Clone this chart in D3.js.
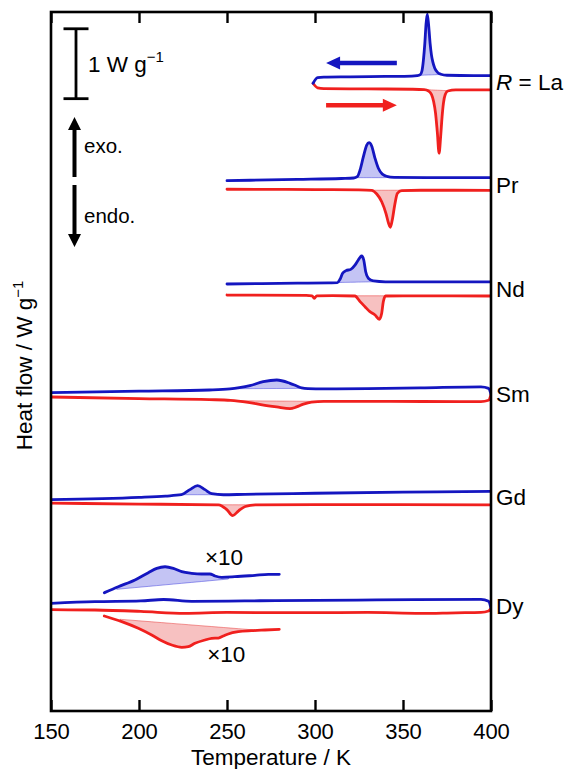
<!DOCTYPE html>
<html>
<head>
<meta charset="utf-8">
<script src="https://cdn.jsdelivr.net/npm/d3@7"></script>
<style>
  body { margin: 0; background: #fff; }
  svg { display: block; }
  text { font-family: "Liberation Sans", Arial, Helvetica, sans-serif; fill: #000; }
</style>
</head>
<body>
<svg id="chart" width="568" height="769"></svg>
<script>
// ---- DSC traces of R compounds (T in K, heat flow in W/g relative to each trace offset) ----
const samples = ["La", "Pr", "Nd", "Sm", "Gd", "Dy"];
const offsets = [9.0, 7.53, 6.04, 4.53, 3.06, 1.50];
const xTicks = [150, 200, 250, 300, 350, 400];

// cooling runs (exothermic, up)
const coolLa = [[298.9,-0.02],[301.5,0.06],[305,0.068],[320,0.072],[340,0.078],[355,0.083],[358,0.09],[359.8,0.105],[360.8,0.16],[361.6,0.31],[362.4,0.55],[363.1,0.83],[363.8,0.97],[364.6,0.80],[365.4,0.55],[366.2,0.38],[366.9,0.29],[368,0.2],[369.5,0.14],[371.5,0.11],[375,0.095],[390,0.09],[400,0.09]];
const coolPr = [[250,0.057],[290,0.075],[315,0.088],[322,0.095],[324,0.114],[325.6,0.21],[327.5,0.40],[329.4,0.567],[330.7,0.60],[332.2,0.553],[334.1,0.377],[336,0.234],[338.2,0.152],[340.7,0.119],[345,0.105],[370,0.10],[400,0.10]];
const coolNd = [[250,0.069],[290,0.08],[308,0.085],[312.7,0.087],[314.2,0.136],[315.7,0.222],[317.6,0.26],[320.3,0.278],[322.7,0.34],[324.6,0.412],[326.5,0.469],[327.7,0.412],[328.8,0.245],[330.3,0.15],[333.1,0.112],[340,0.10],[400,0.10]];
const coolSm = [[150,0.024],[200,0.045],[240,0.062],[251.7,0.077],[257,0.095],[263,0.124],[270.6,0.181],[278.3,0.205],[285.8,0.158],[289.6,0.12],[292.4,0.092],[296,0.082],[305,0.078],[330,0.082],[360,0.092],[394.3,0.107],[398.6,0.085],[400,0.0]];
const coolGd = [[150,-0.037],[200,-0.004],[215,0.015],[224.1,0.034],[228.9,0.107],[233.3,0.165],[237.5,0.107],[241.3,0.049],[248,0.034],[260,0.04],[300,0.055],[350,0.07],[400,0.083]];
const coolDy = [[150,0.041],[175,0.064],[201,0.075],[214,0.095],[230,0.069],[260,0.075],[277.7,0.079],[335,0.089],[394.3,0.098],[398.6,0.07],[400,-0.03]];

// heating runs (endothermic, down)
const heatLa = [[298.9,-0.02],[301.5,-0.085],[305,-0.095],[330,-0.10],[355,-0.105],[362,-0.11],[364.5,-0.13],[366.2,-0.18],[367.4,-0.28],[368.5,-0.45],[369.5,-0.72],[370.5,-1.02],[371.4,-0.78],[372.2,-0.5],[373,-0.3],[374,-0.18],[375.5,-0.13],[380,-0.115],[400,-0.115]];
const heatPr = [[250,-0.066],[300,-0.07],[325,-0.075],[332.2,-0.081],[335.1,-0.134],[337.9,-0.244],[340.3,-0.41],[341.8,-0.553],[342.8,-0.61],[343.9,-0.506],[345.3,-0.291],[346.8,-0.124],[349.3,-0.085],[360,-0.08],[400,-0.081]];
const heatNd = [[250,-0.089],[295,-0.095],[298.3,-0.10],[299.6,-0.136],[301,-0.10],[310,-0.098],[322.7,-0.103],[325.6,-0.184],[328.4,-0.256],[331.2,-0.327],[334.1,-0.375],[336.5,-0.436],[337.9,-0.35],[338.8,-0.184],[340.1,-0.103],[350,-0.10],[400,-0.103]];
const heatSm = [[150,-0.038],[200,-0.06],[240,-0.075],[252,-0.085],[262,-0.115],[270,-0.15],[278.2,-0.18],[285.8,-0.205],[289.5,-0.18],[293.4,-0.14],[298,-0.11],[305,-0.1],[330,-0.1],[394.3,-0.105],[398.6,-0.085],[400,0.0]];
const heatGd = [[150,-0.086],[200,-0.10],[245.2,-0.11],[250,-0.182],[253.2,-0.265],[256.6,-0.196],[260.4,-0.134],[266.1,-0.11],[300,-0.108],[400,-0.11]];
const heatDy = [[150,-0.051],[175,-0.055],[201,-0.075],[226,-0.104],[250,-0.09],[297,-0.094],[330,-0.09],[360,-0.104],[380,-0.095],[394.3,-0.09],[398.6,-0.07],[400,-0.03]];

// Dy: magnified (x10) traces, shifted off the main curves
const coolDyX10 = [[180.3,0.192],[188.2,0.278],[197.7,0.374],[205.3,0.479],[210.1,0.541],[214.8,0.564],[219.5,0.541],[224.3,0.493],[229.9,0.470],[235.6,0.460],[240.3,0.460],[243.2,0.431],[247,0.413],[254.5,0.421],[265.9,0.441],[273.5,0.455],[279.7,0.455]];
const heatDyX10 = [[180.3,-0.141],[190.2,-0.222],[199.6,-0.317],[207.2,-0.413],[212.9,-0.494],[218.6,-0.556],[224.3,-0.589],[228.0,-0.580],[231.8,-0.531],[237.5,-0.484],[241.3,-0.460],[245.1,-0.456],[247.9,-0.427],[250.7,-0.398],[256.4,-0.366],[264.0,-0.351],[271.6,-0.341],[279.7,-0.331]];

// integration windows: straight baseline from [T1,q1] to [T2,q2]
const coolPeaks = [[[360,0.095],[370.5,0.105]], [[323.7,0.10],[340,0.10]], [[313,0.09],[333,0.10]], [[251.7,0.08],[294.3,0.086]], [[224,0.034],[248,0.034]], null];
const heatPeaks = [[[362,-0.11],[375,-0.125]], [[332,-0.08],[348.8,-0.08]], [[322.7,-0.10],[340.1,-0.10]], [[256,-0.092],[302.8,-0.1]], [[245,-0.11],[263.5,-0.11]], null];
const coolDyX10Peak = [[187.3,0.241],[250.8,0.388]];
const heatDyX10Peak = [[189.2,-0.188],[265.9,-0.341]];

const coolRuns = [coolLa, coolPr, coolNd, coolSm, coolGd, coolDy];
const heatRuns = [heatLa, heatPr, heatNd, heatSm, heatGd, heatDy];

// ---- layout ----
const W = 568, H = 769;
const margin = { top: 12, right: 77, bottom: 58, left: 51 };
const innerW = W - margin.left - margin.right;
const innerH = H - margin.top - margin.bottom;

const BLUE = "#1416c0", RED = "#f0201e";
const BLUE_FILL = "#3c3cdc", RED_FILL = "#e63232";

const svg = d3.select("#chart");
const g = svg.append("g").attr("transform", `translate(${margin.left},${margin.top})`);

const x = d3.scaleLinear().domain([150, 400]).range([0, innerW]);
const y = d3.scaleLinear().domain([0, 10]).range([innerH, 0]);

// clip traces to the frame
g.append("clipPath").attr("id", "plotClip")
  .append("rect").attr("x", 0).attr("y", 0).attr("width", innerW).attr("height", innerH);
const plot = g.append("g").attr("clip-path", "url(#plotClip)");

function interpAt(run, t) {
  for (let i = 0; i < run.length - 1; i++) {
    const [t0, q0] = run[i], [t1, q1] = run[i + 1];
    if (t >= t0 && t <= t1) return q0 + (q1 - q0) * (t - t0) / (t1 - t0);
  }
  return run[run.length - 1][1];
}

function peakArea(run, win) {
  const [[t1, q1], [t2, q2]] = win;
  const base = t => q1 + (q2 - q1) * (t - t1) / (t2 - t1);
  const pts = [[t1, interpAt(run, t1), base(t1)]];
  run.filter(p => p[0] > t1 && p[0] < t2).forEach(p => pts.push([p[0], p[1], base(p[0])]));
  pts.push([t2, interpAt(run, t2), base(t2)]);
  return pts;
}

function drawFill(run, win, off, color) {
  const area = d3.area()
    .x(d => x(d[0]))
    .y1(d => y(off + d[1]))
    .y0(d => y(off + d[2]))
    .curve(d3.curveMonotoneX);
  plot.append("path")
    .attr("d", area(peakArea(run, win)))
    .attr("fill", color).attr("fill-opacity", 0.3)
    .attr("stroke", color).attr("stroke-opacity", 0.55).attr("stroke-width", 0.9);
}

function drawRun(run, off, color) {
  const line = d3.line()
    .x(d => x(d[0]))
    .y(d => y(off + d[1]))
    .curve(d3.curveMonotoneX);
  plot.append("path")
    .attr("d", line(run))
    .attr("fill", "none")
    .attr("stroke", color)
    .attr("stroke-width", 2.8)
    .attr("stroke-linejoin", "round")
    .attr("stroke-linecap", "round");
}

samples.forEach((s, i) => {
  const off = offsets[i];
  if (coolPeaks[i]) drawFill(coolRuns[i], coolPeaks[i], off, BLUE_FILL);
  if (heatPeaks[i]) drawFill(heatRuns[i], heatPeaks[i], off, RED_FILL);
  drawRun(heatRuns[i], off, RED);
  drawRun(coolRuns[i], off, BLUE);
});

// Dy x10 traces
const dyOff = offsets[5];
drawFill(coolDyX10, coolDyX10Peak, dyOff, BLUE_FILL);
drawFill(heatDyX10, heatDyX10Peak, dyOff, RED_FILL);
drawRun(coolDyX10, dyOff, BLUE);
drawRun(heatDyX10, dyOff, RED);

g.append("text").attr("x", x(248.3)).attr("y", y(dyOff + 0.70)).attr("dy", "0.36em")
  .attr("text-anchor", "middle").style("font-size", "22.5px").text("\u00d710");
g.append("text").attr("x", x(249.6)).attr("y", y(dyOff - 0.69)).attr("dy", "0.36em")
  .attr("text-anchor", "middle").style("font-size", "22.5px").text("\u00d710");

// sample labels on the right
samples.forEach((s, i) => {
  const t = g.append("text")
    .attr("x", innerW + 5)
    .attr("y", y(offsets[i]))
    .attr("dy", "0.36em")
    .style("font-size", "22.5px");
  if (s === "La") {
    t.append("tspan").style("font-style", "italic").text("R");
    t.append("tspan").text(" = La");
  } else {
    t.text(s);
  }
});

// ---- axes and frame ----
const axBottom = d3.axisBottom(x).tickValues(xTicks).tickSize(-11).tickPadding(12).tickFormat(d3.format("d"));
const gb = g.append("g").attr("transform", `translate(0,${innerH})`).call(axBottom);
gb.select(".domain").remove();
gb.selectAll(".tick line").attr("stroke", "#000").attr("stroke-width", 2.4);
gb.selectAll(".tick text").style("font-size", "22px").attr("fill", "#000")
  .style("font-family", "\"Liberation Sans\", Arial, Helvetica, sans-serif");

const axTop = d3.axisTop(x).tickValues(xTicks).tickSize(-11).tickFormat("");
const gt = g.append("g").call(axTop);
gt.select(".domain").remove();
gt.selectAll(".tick line").attr("stroke", "#000").attr("stroke-width", 2.4);

g.append("rect").attr("x", 0).attr("y", 0).attr("width", innerW).attr("height", innerH)
  .attr("fill", "none").attr("stroke", "#000").attr("stroke-width", 2.6);

g.append("text").attr("x", innerW / 2).attr("y", innerH + 54)
  .attr("text-anchor", "middle").style("font-size", "22.5px").text("Temperature / K");

const yl = svg.append("text")
  .attr("transform", `translate(32,${margin.top + innerH / 2 + 4}) rotate(-90)`)
  .attr("text-anchor", "middle").style("font-size", "22.5px");
yl.append("tspan").text("Heat flow / W g");
yl.append("tspan").attr("dy", -9).style("font-size", "15px").text("\u22121");

// ---- scale bar: 1 W/g ----
const barX = 25, barLo = 8.76, barHi = 9.76, cap = 12.5;
const sb = g.append("g").attr("stroke", "#000").attr("stroke-width", 2.8);
sb.append("line").attr("x1", barX).attr("x2", barX).attr("y1", y(barLo)).attr("y2", y(barHi));
sb.append("line").attr("x1", barX - cap).attr("x2", barX + cap).attr("y1", y(barLo)).attr("y2", y(barLo));
sb.append("line").attr("x1", barX - cap).attr("x2", barX + cap).attr("y1", y(barHi)).attr("y2", y(barHi));
const sbt = g.append("text").attr("x", barX + 12).attr("y", y(barHi) + 43).style("font-size", "22.5px");
sbt.append("tspan").text("1 W g");
sbt.append("tspan").attr("dy", -10).style("font-size", "15px").text("\u22121");

// ---- arrows ----
function arrowPath(x0, y0, x1, y1, shaft, headLen, headHalf) {
  const dx = x1 - x0, dy = y1 - y0, L = Math.hypot(dx, dy);
  const ux = dx / L, uy = dy / L, px = -uy, py = ux;
  const bx = x1 - ux * headLen, by = y1 - uy * headLen;
  const s = shaft / 2;
  const p = [
    [x0 + px * s, y0 + py * s], [bx + px * s, by + py * s], [bx + px * headHalf, by + py * headHalf],
    [x1, y1], [bx - px * headHalf, by - py * headHalf], [bx - px * s, by - py * s], [x0 - px * s, y0 - py * s]
  ];
  return "M" + p.map(d => d.join(",")).join("L") + "Z";
}

// exo / endo indicators
const ax = 23.5;
g.append("path").attr("d", arrowPath(ax, 165, ax, 105, 4, 13, 6.5)).attr("fill", "#000");
g.append("path").attr("d", arrowPath(ax, 173, ax, 235, 4, 13, 6.5)).attr("fill", "#000");
g.append("text").attr("x", 33).attr("y", 141).style("font-size", "20.5px").text("exo.");
g.append("text").attr("x", 33).attr("y", 211).style("font-size", "20.5px").text("endo.");

// run direction for La
g.append("path").attr("d", arrowPath(x(346.5), y(9.27), x(306.3), y(9.27), 4.5, 14, 6.5)).attr("fill", BLUE);
g.append("path").attr("d", arrowPath(x(306.3), y(8.665), x(346.5), y(8.665), 4.5, 14, 6.5)).attr("fill", RED);
</script>
</body>
</html>
